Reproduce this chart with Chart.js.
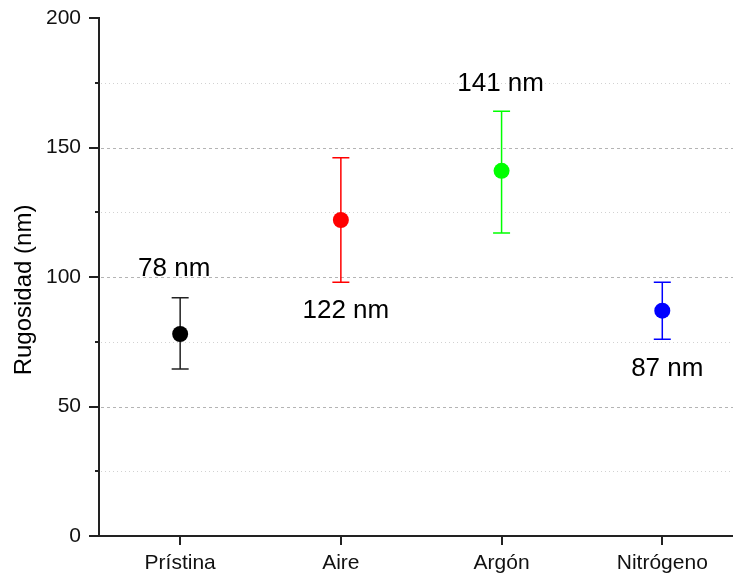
<!DOCTYPE html>
<html>
<head>
<meta charset="utf-8">
<script src="https://cdn.jsdelivr.net/npm/chart.js@4/dist/chart.umd.min.js"></script>
<style>
  html, body { margin: 0; padding: 0; background: #ffffff; overflow: hidden; }
  canvas { display: block; }
</style>
</head>
<body>
<canvas id="chart" width="733" height="575"></canvas>
<script>
// Surface roughness per treatment: mean and error-bar limits (nm)
const categories = ['Prístina', 'Aire', 'Argón', 'Nitrógeno'];
const means      = [78, 122, 141, 87];
const errLow     = [64.5, 98, 117, 76];
const errHigh    = [92, 146, 164, 98];
const colors     = ['#000000', '#ff0000', '#00ff00', '#0000ff'];
const yTicks     = [0, 25, 50, 75, 100, 125, 150, 175, 200];

const FONT = '"Liberation Sans", Arial, sans-serif';

// Where each value label sits relative to its point (px)
const labelOffsets = [[-6, -65], [5, 91], [-1, -87], [5, 58]];

const drawExtras = {
  id: 'drawExtras',
  beforeDatasetsDraw(chart) {
    const { ctx, chartArea, scales: { x, y } } = chart;
    ctx.save();
    // horizontal reference lines
    yTicks.forEach(v => {
      if (v === 0 || v === 200) return;
      const py = Math.round(y.getPixelForValue(v)) + 0.5;
      const major = v % 50 === 0;
      ctx.strokeStyle = major ? '#b4b4b4' : '#d2d2d2';
      ctx.lineWidth = 1;
      ctx.setLineDash(major ? [3, 3] : [1, 3]);
      ctx.beginPath();
      ctx.moveTo(chartArea.left + 2, py);
      ctx.lineTo(chartArea.right, py);
      ctx.stroke();
    });
    ctx.setLineDash([]);
    // error bars
    categories.forEach((c, i) => {
      const px = x.getPixelForValue(i + 1);
      const pLo = y.getPixelForValue(errLow[i]);
      const pHi = y.getPixelForValue(errHigh[i]);
      ctx.strokeStyle = i === 0 ? '#222222' : colors[i];
      ctx.lineWidth = 1.5;
      ctx.beginPath();
      ctx.moveTo(px, pLo); ctx.lineTo(px, pHi);
      ctx.moveTo(px - 8.5, pLo); ctx.lineTo(px + 8.5, pLo);
      ctx.moveTo(px - 8.5, pHi); ctx.lineTo(px + 8.5, pHi);
      ctx.stroke();
    });
    ctx.restore();
  },
  afterDraw(chart) {
    const { ctx, chartArea, scales: { x, y } } = chart;
    ctx.save();
    ctx.strokeStyle = '#222222';
    ctx.lineWidth = 2;
    // y tick marks (long on labelled values, short between)
    yTicks.forEach(v => {
      const py = Math.round(y.getPixelForValue(v));
      const len = v % 50 === 0 ? 10 : 4;
      ctx.beginPath();
      ctx.moveTo(chartArea.left - len, py);
      ctx.lineTo(chartArea.left, py);
      ctx.stroke();
    });
    // x tick marks
    categories.forEach((c, i) => {
      const px = Math.round(x.getPixelForValue(i + 1));
      ctx.beginPath();
      ctx.moveTo(px, chartArea.bottom);
      ctx.lineTo(px, chartArea.bottom + 9);
      ctx.stroke();
    });
    // value labels
    ctx.fillStyle = '#000000';
    ctx.font = '26px ' + FONT;
    ctx.textAlign = 'center';
    ctx.textBaseline = 'middle';
    categories.forEach((c, i) => {
      const px = x.getPixelForValue(i + 1) + labelOffsets[i][0];
      const py = y.getPixelForValue(means[i]) + labelOffsets[i][1];
      ctx.fillText(Math.round(means[i]) + ' nm', px, py);
    });
    // y axis title
    ctx.font = '24px ' + FONT;
    ctx.translate(24, 290);
    ctx.rotate(-Math.PI / 2);
    ctx.fillText('Rugosidad (nm)', 0, 0);
    ctx.restore();
  }
};

new Chart(document.getElementById('chart'), {
  type: 'scatter',
  data: {
    datasets: [{
      data: means.map((m, i) => ({ x: i + 1, y: m })),
      pointRadius: 8,
      pointHoverRadius: 8,
      pointBackgroundColor: colors,
      pointBorderColor: colors,
      pointBorderWidth: 0,
      showLine: false
    }]
  },
  options: {
    responsive: false,
    devicePixelRatio: 1,
    animation: false,
    events: [],
    layout: { autoPadding: false, padding: { top: 18, right: 0, bottom: 0, left: 0 } },
    plugins: { legend: { display: false }, tooltip: { enabled: false } },
    scales: {
      x: {
        type: 'linear',
        min: 0.495,
        max: 4.44,
        grid: { display: false },
        border: { display: true, color: '#222222', width: 2 },
        afterBuildTicks: s => { s.ticks = categories.map((c, i) => ({ value: i + 1 })); },
        afterFit: s => { s.height = 39; s.paddingLeft = 0; s.paddingRight = 0; },
        ticks: {
          autoSkip: false,
          maxRotation: 0,
          padding: 7,
          color: '#111111',
          font: { family: FONT, size: 21 },
          callback: v => categories[v - 1]
        }
      },
      y: {
        type: 'linear',
        min: 0,
        max: 200,
        grid: { display: false },
        border: { display: true, color: '#222222', width: 2 },
        afterBuildTicks: s => { s.ticks = yTicks.map(v => ({ value: v })); },
        afterFit: s => { s.width = 99; s.paddingTop = 0; s.paddingBottom = 0; },
        ticks: {
          autoSkip: false,
          padding: 10,
          color: '#111111',
          font: { family: FONT, size: 21 },
          callback: v => (v % 50 === 0 ? String(v) : '')
        }
      }
    }
  },
  plugins: [drawExtras]
});
</script>
</body>
</html>
